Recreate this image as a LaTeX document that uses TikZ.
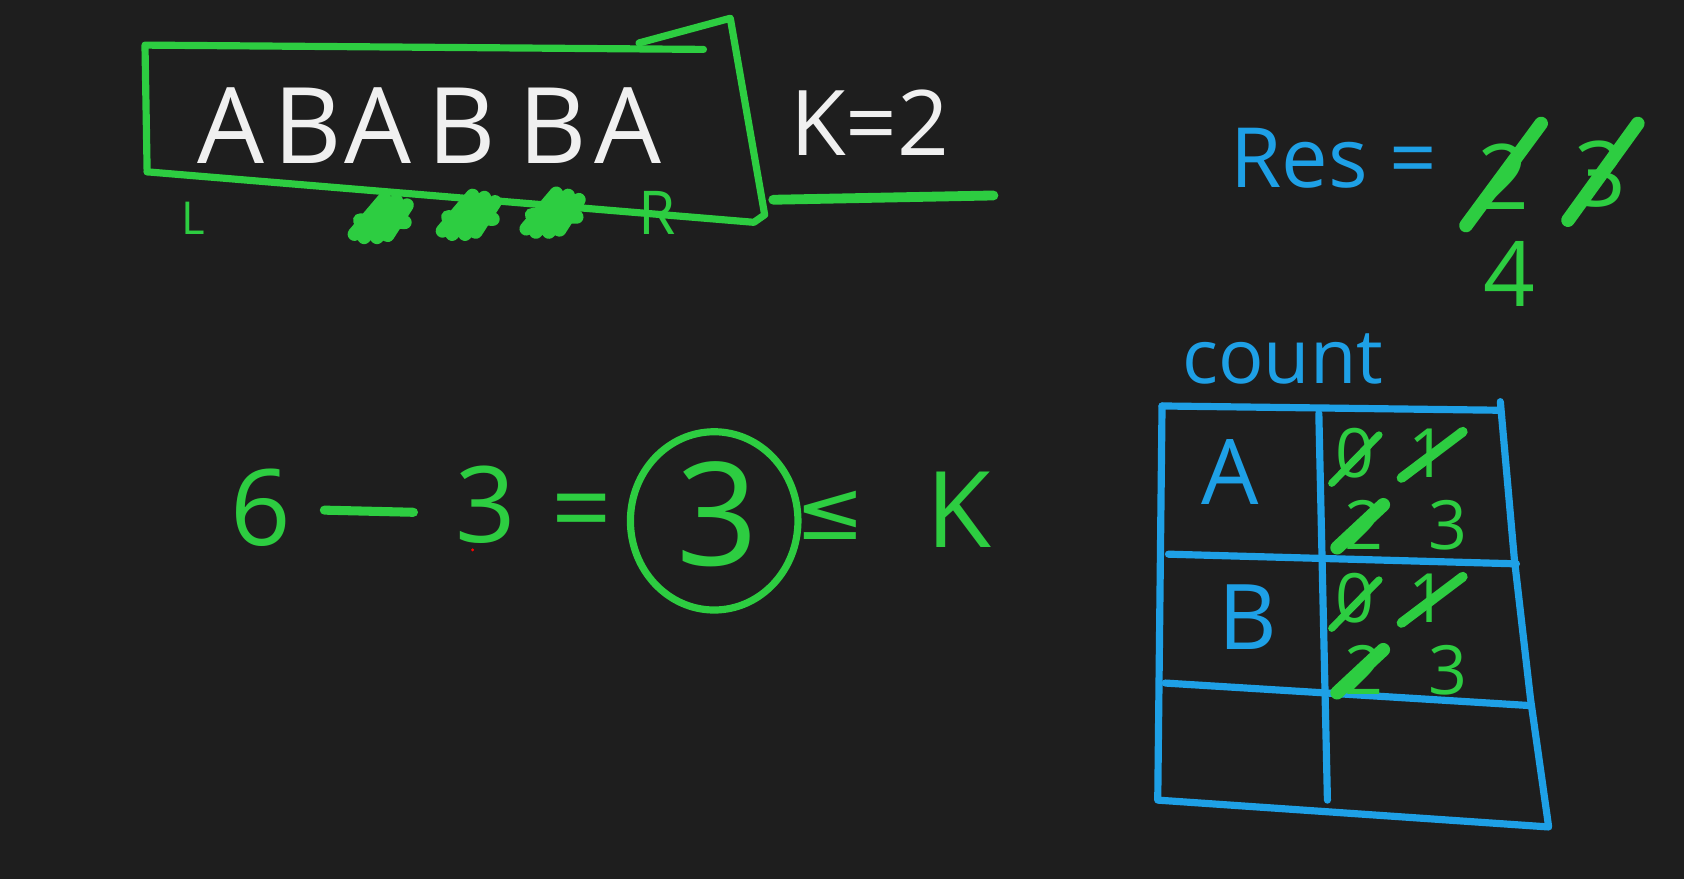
\documentclass[tikz,border=0pt]{standalone}
\usepackage{fontspec}
\setmainfont{Open Sans}
\newfontfamily\symfont{DejaVu Sans}
\usetikzlibrary{positioning}
\definecolor{board}{RGB}{30,30,30}
\definecolor{chalkwhite}{RGB}{240,240,240}
\definecolor{pengreen}{RGB}{45,205,65}
\definecolor{penblue}{RGB}{30,160,230}

\begin{document}
\begin{tikzpicture}[
    x=0.01cm, y=-0.01cm,
    pen/.style={line width=1.9pt, line cap=round, line join=round},
    gpen/.style={pen, draw=pengreen},
    bpen/.style={pen, draw=penblue},
    strike/.style={draw=pengreen, line width=3.6pt, line cap=round, line join=round},
    txt/.style={inner sep=0pt, anchor=base},
    big/.style={txt, font=\fontsize{28}{28}\selectfont},
    small/.style={txt, font=\fontsize{18}{18}\selectfont}
  ]
  % board
  \fill[board] (0,0) rectangle (1568,818);
  \useasboundingbox (0,0) rectangle (1568,818);

  % the string and its window
  \foreach \ch/\px [count=\i] in {A/215,B/287,A/352,B/430,B/515,A/585}
    \node[big, text=chalkwhite] (s\i) at (\px,152) {\ch};
  \draw[gpen] (137,160) -- (135,42) -- (655,46);
  \draw[gpen] (595,40) -- (680,17) -- (712,200) -- (702,207) -- (137,160);
  \node[txt, text=chalkwhite, font=\fontsize{24}{24}\selectfont] (kval) at (810,145) {K=2};
  \coordinate (ul1) at (720,186);
  \coordinate (ul2) at (925,182);
  \draw[gpen, line width=2.6pt] (ul1) -- (ul2);

  % pointers
  \node[txt, text=pengreen, font=\fontsize{12}{12}\selectfont] (lptr) at (180,218) {L};
  \foreach \px/\py in {355/203,437/200,515/198}
    \draw[strike] (\px-25,\py+15) -- (\px+3,\py-18) -- (\px-16,\py+18) -- (\px+14,\py-16)
      -- (\px-4,\py+18) -- (\px+24,\py-12) -- (\px+6,\py+16) -- (\px-20,\py+2) -- (\px+22,\py+4);
  \node[txt, text=pengreen, font=\fontsize{16}{16}\selectfont] (rptr) at (612,218) {R};

  % result
  \node[txt, text=penblue, font=\fontsize{22}{22}\selectfont] (res) at (1242,175) {Res =};
  \node[txt, text=pengreen, font=\fontsize{24}{24}\selectfont] (r2) at (1400,195) {2};
  \node[txt, text=pengreen, font=\fontsize{24}{24}\selectfont] (r3) at (1490,192) {3};
  \draw[strike] (1365,210) -- (1435,115);
  \draw[strike] (1460,205) -- (1525,115);
  \node[txt, text=pengreen, font=\fontsize{24}{24}\selectfont] (r4) at (1405,285) {4};

  % count table
  \node[txt, anchor=base west, text=penblue, font=\fontsize{20}{20}\selectfont] (cnt) at (1100,357) {count};
  \coordinate (tl) at (1082,378);
  \coordinate (tr) at (1397,374);
  \coordinate (br) at (1442,770);
  \coordinate (bl) at (1078,745);
  \draw[bpen] (tl) -- (1397,382);
  \draw[bpen] (tr) -- (1410,520) -- (1425,650) -- (br) -- (bl) -- (tl);
  \draw[bpen] (1088,516) -- (1412,525);
  \draw[bpen] (1085,636) -- (1425,657);
  \draw[bpen] (1228,385) -- (1236,745);
  \node[txt, text=penblue, font=\fontsize{24}{24}\selectfont] (ka) at (1145,470) {A};
  \node[txt, text=penblue, font=\fontsize{24}{24}\selectfont] (kb) at (1162,605) {B};
  % counts for A and B
  \foreach \yy [count=\j] in {0,135} {
    \node[small, text=pengreen] (c\j a) at (1262,445+\yy) {0};
    \node[small, text=pengreen] (c\j b) at (1330,445+\yy) {1};
    \node[small, text=pengreen] (c\j c) at (1270,512+\yy) {2};
    \node[small, text=pengreen] (c\j d) at (1348,512+\yy) {3};
    \draw[gpen] (1240,450+\yy) -- (1284,405+\yy);
    \draw[strike, line width=2.6pt] (1305,445+\yy) -- (1362,402+\yy);
    \draw[strike] (1245,510+\yy) -- (1288,470+\yy);
  }

  % window check
  \node[txt, text=pengreen, font=\fontsize{28}{28}\selectfont] (e6) at (243,508) {6};
  \coordinate (m1) at (302,475);
  \coordinate (m2) at (385,477);
  \draw[gpen, line width=2.4pt] (m1) -- (m2);
  \node[txt, text=pengreen, font=\fontsize{28}{28}\selectfont] (e3) at (452,505) {3};
  \node[txt, text=pengreen, font=\fontsize{28}{28}\selectfont] (eq) at (542,508) {=};
  \node[txt, text=pengreen, font=\fontsize{38}{38}\selectfont] (ew) at (668,527) {3};
  \draw[gpen] (665,485) ellipse [x radius=78, y radius=83];
  \node[inner sep=0pt, text=pengreen, font=\fontsize{22}{22}\symfont] (le) at (773,480) {≤};
  \node[txt, text=pengreen, font=\fontsize{28}{28}\selectfont] (ek) at (893,510) {K};
  \fill[red] (440,512) circle (1.5);
\end{tikzpicture}
\end{document}
